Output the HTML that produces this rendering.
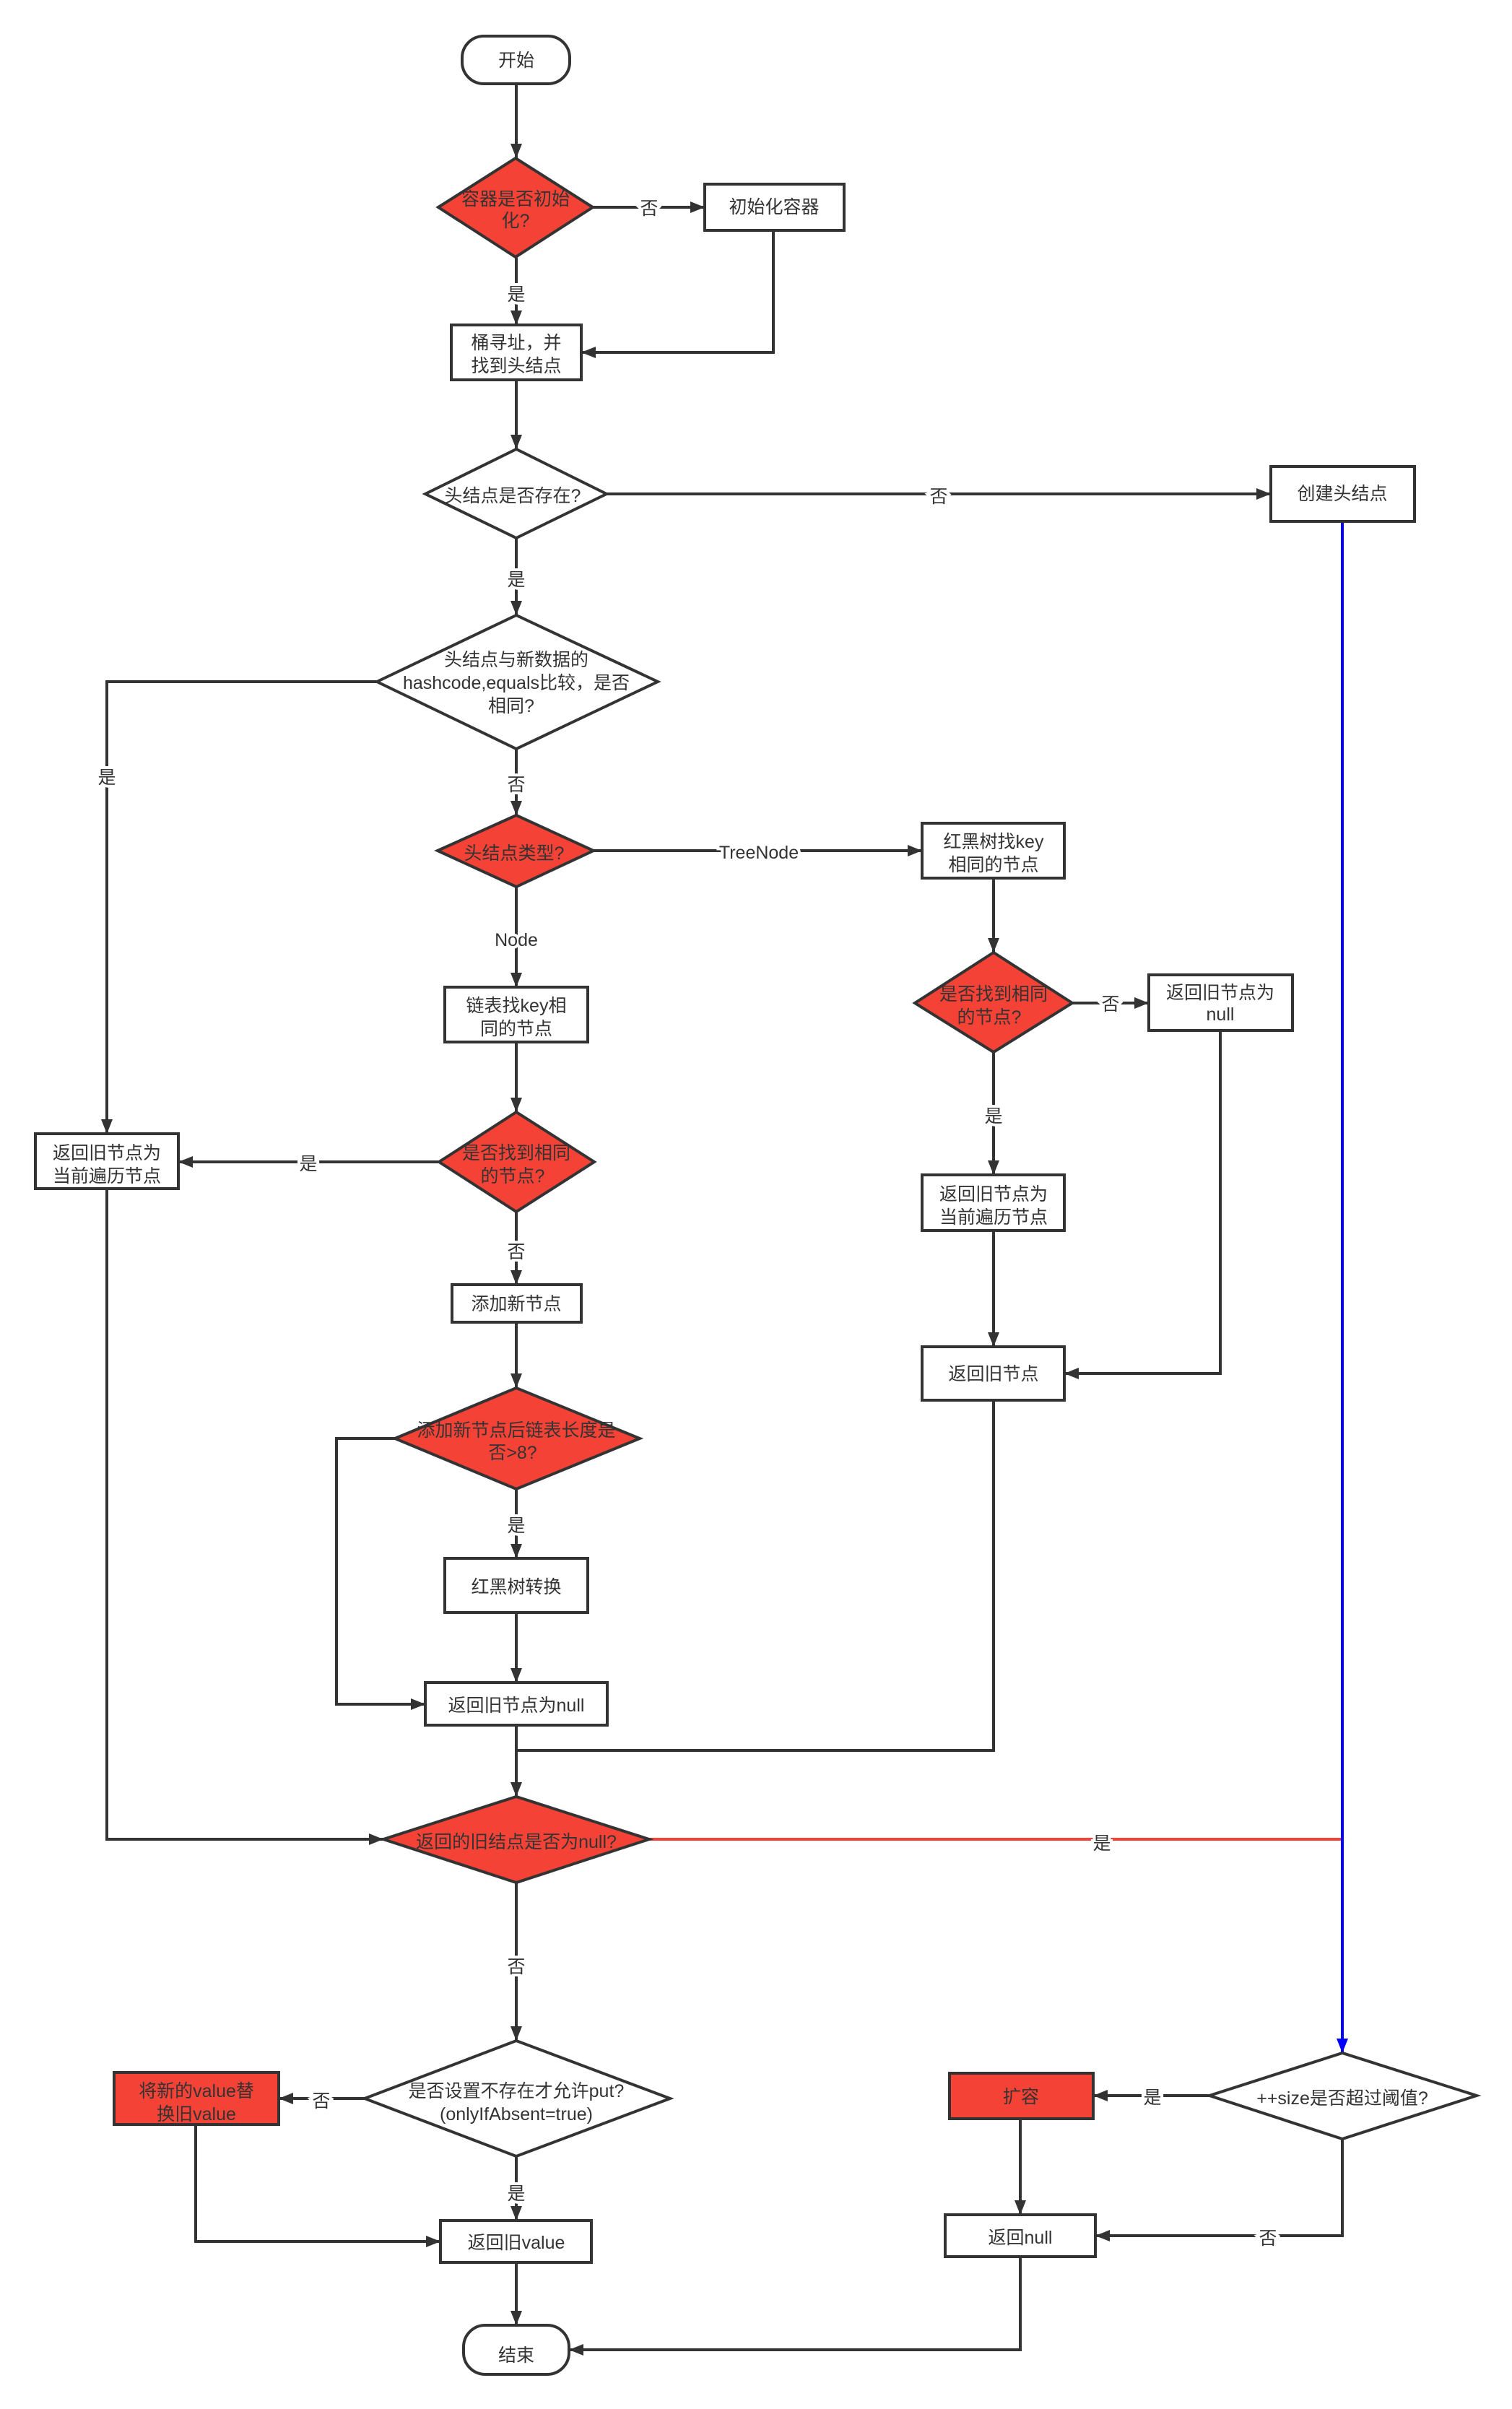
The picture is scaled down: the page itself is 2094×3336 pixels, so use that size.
<!DOCTYPE html>
<html><head><meta charset="utf-8"><style>
html,body{margin:0;padding:0;background:#fff}
svg{display:block}
text{font-family:"Liberation Sans","Noto Sans CJK SC",sans-serif;font-size:25px;fill:#333;text-anchor:middle;dominant-baseline:central}
.l{paint-order:stroke;stroke:#fff;stroke-width:8px}
</style></head><body>
<svg width="2094" height="3336" viewBox="0 0 2094 3336" xmlns="http://www.w3.org/2000/svg">
<defs>
<marker id="a" markerUnits="userSpaceOnUse" markerWidth="20" markerHeight="16" refX="20" refY="8" orient="auto"><path d="M0,0 L20,8 L0,16 z" fill="#333"/></marker>
<marker id="b" markerUnits="userSpaceOnUse" markerWidth="20" markerHeight="16" refX="20" refY="8" orient="auto"><path d="M0,0 L20,8 L0,16 z" fill="#00f"/></marker>
</defs>
<g fill="none" stroke="#333" stroke-width="4">
<path d="M715,117 V219" marker-end="url(#a)"/>
<path d="M821,287 H976" marker-end="url(#a)"/>
<path d="M715,356 V450" marker-end="url(#a)"/>
<path d="M1071,319 V488 H805" marker-end="url(#a)"/>
<path d="M715,526 V622" marker-end="url(#a)"/>
<path d="M840,684 H1760" marker-end="url(#a)"/>
<path d="M715,745 V852" marker-end="url(#a)"/>
<path d="M522,944 H148 V1570" marker-end="url(#a)"/>
<path d="M715,1037 V1129" marker-end="url(#a)"/>
<path d="M822,1178 H1277" marker-end="url(#a)"/>
<path d="M715,1228 V1367" marker-end="url(#a)"/>
<path d="M1376,1216 V1319" marker-end="url(#a)"/>
<path d="M1485,1389 H1591" marker-end="url(#a)"/>
<path d="M1376,1457 V1627" marker-end="url(#a)"/>
<path d="M1376,1704 V1865" marker-end="url(#a)"/>
<path d="M1690,1427 V1902 H1474" marker-end="url(#a)"/>
<path d="M715,1443 V1540" marker-end="url(#a)"/>
<path d="M608,1609 H247" marker-end="url(#a)"/>
<path d="M715,1678 V1779" marker-end="url(#a)"/>
<path d="M715,1831 V1922" marker-end="url(#a)"/>
<path d="M547,1992 H466 V2360 H589" marker-end="url(#a)"/>
<path d="M715,2062 V2158" marker-end="url(#a)"/>
<path d="M715,2233 V2330" marker-end="url(#a)"/>
<path d="M715,2389 V2488" marker-end="url(#a)"/>
<path d="M1376,1939 V2424 H715"/>
<path d="M148,1646 V2547 H531" marker-end="url(#a)"/>
<path d="M715,2607 V2826" marker-end="url(#a)"/>
<path d="M505,2906 H386" marker-end="url(#a)"/>
<path d="M715,2986 V3075" marker-end="url(#a)"/>
<path d="M271,2942 V3104 H610" marker-end="url(#a)"/>
<path d="M715,3133 V3220" marker-end="url(#a)"/>
<path d="M1675,2902 H1514" marker-end="url(#a)"/>
<path d="M1413,2934 V3067" marker-end="url(#a)"/>
<path d="M1859,2962 V3096 H1517" marker-end="url(#a)"/>
<path d="M1413,3125 V3254 H788" marker-end="url(#a)"/>
<path d="M899,2547 H1859" stroke="#f44336"/>
<path d="M1859,722 V2843" stroke="#00f" marker-end="url(#b)"/>
</g>
<g stroke="#333" stroke-width="4">
<rect x="640" y="50" width="149" height="66" rx="30" fill="#fff"/>
<polygon points="607,287 714,219 821,287 714,356" fill="#f44336"/>
<rect x="976" y="255" width="193" height="64" fill="#fff"/>
<rect x="625" y="450" width="180" height="76" fill="#fff"/>
<polygon points="589,684 715,622 840,684 715,745" fill="#fff"/>
<rect x="1760" y="646" width="199" height="76" fill="#fff"/>
<polygon points="522,944 715,852 911,944 715,1037" fill="#fff"/>
<polygon points="606,1178 715,1129 822,1178 715,1228" fill="#f44336"/>
<rect x="1277" y="1140" width="197" height="76" fill="#fff"/>
<rect x="616" y="1367" width="198" height="76" fill="#fff"/>
<polygon points="1267,1389 1376,1319 1485,1389 1376,1457" fill="#f44336"/>
<rect x="1591" y="1350" width="199" height="77" fill="#fff"/>
<polygon points="608,1609 715,1540 823,1609 715,1678" fill="#f44336"/>
<rect x="49" y="1570" width="198" height="76" fill="#fff"/>
<rect x="1277" y="1627" width="197" height="77" fill="#fff"/>
<rect x="626" y="1779" width="179" height="52" fill="#fff"/>
<rect x="1277" y="1865" width="197" height="74" fill="#fff"/>
<polygon points="547,1992 715,1922 886,1992 715,2062" fill="#f44336"/>
<rect x="616" y="2158" width="198" height="75" fill="#fff"/>
<rect x="589" y="2330" width="252" height="59" fill="#fff"/>
<polygon points="531,2547 715,2488 899,2547 715,2607" fill="#f44336"/>
<polygon points="505,2906 715,2826 928,2906 715,2986" fill="#fff"/>
<rect x="158" y="2870" width="228" height="72" fill="#f44336"/>
<rect x="610" y="3075" width="209" height="58" fill="#fff"/>
<rect x="642" y="3220" width="146" height="68" rx="30" fill="#fff"/>
<polygon points="1675,2902 1859,2843 2045,2902 1859,2962" fill="#fff"/>
<rect x="1315" y="2871" width="199" height="63" fill="#f44336"/>
<rect x="1309" y="3067" width="208" height="58" fill="#fff"/>
</g>
<text x="715" y="84">开始</text>
<text x="714" y="276">容器是否初始</text><text x="714" y="306">化?</text>
<text x="1072" y="287">初始化容器</text>
<text x="715" y="475">桶寻址，并</text><text x="715" y="507">找到头结点</text>
<text x="710" y="687">头结点是否存在?</text>
<text x="1859" y="684">创建头结点</text>
<text x="715" y="914">头结点与新数据的</text><text x="715" y="946">hashcode,equals比较，是否</text><text x="708" y="978">相同?</text>
<text x="712" y="1182">头结点类型?</text>
<text x="1376" y="1166">红黑树找key</text><text x="1376" y="1198">相同的节点</text>
<text x="715" y="1393">链表找key相</text><text x="715" y="1425">同的节点</text>
<text x="1376" y="1377">是否找到相同</text><text x="1370" y="1409">的节点?</text>
<text x="1690" y="1375">返回旧节点为</text><text x="1690" y="1405">null</text>
<text x="715" y="1597">是否找到相同</text><text x="710" y="1629">的节点?</text>
<text x="148" y="1597">返回旧节点为</text><text x="148" y="1629">当前遍历节点</text>
<text x="1376" y="1654">返回旧节点为</text><text x="1376" y="1686">当前遍历节点</text>
<text x="715" y="1806">添加新节点</text>
<text x="1376" y="1903">返回旧节点</text>
<text x="715" y="1981">添加新节点后链表长度是</text><text x="710" y="2012">否&gt;8?</text>
<text x="715" y="2198">红黑树转换</text>
<text x="715" y="2362">返回旧节点为null</text>
<text x="715" y="2551">返回的旧结点是否为null?</text>
<text x="715" y="2896">是否设置不存在才允许put?</text><text x="715" y="2928">(onlyIfAbsent=true)</text>
<text x="272" y="2896">将新的value替</text><text x="272" y="2928">换旧value</text>
<text x="715" y="3106">返回旧value</text>
<text x="715" y="3262">结束</text>
<text x="1859" y="2906">++size是否超过阈值?</text>
<text x="1414" y="2904">扩容</text>
<text x="1413" y="3099">返回null</text>
<g class="lbl">
<text class="l" x="899" y="289">否</text>
<text class="l" x="715" y="408">是</text>
<text class="l" x="1300" y="688">否</text>
<text class="l" x="715" y="803">是</text>
<text class="l" x="148" y="1077">是</text>
<text class="l" x="715" y="1087">否</text>
<text class="l" x="1051" y="1181">TreeNode</text>
<text class="l" x="715" y="1302">Node</text>
<text class="l" x="1538" y="1391">否</text>
<text class="l" x="1376" y="1546">是</text>
<text class="l" x="427" y="1612">是</text>
<text class="l" x="715" y="1734">否</text>
<text class="l" x="715" y="2113">是</text>
<text class="l" x="1526" y="2553">是</text>
<text class="l" x="715" y="2724">否</text>
<text class="l" x="445" y="2910">否</text>
<text class="l" x="715" y="3038">是</text>
<text class="l" x="1596" y="2905">是</text>
<text class="l" x="1756" y="3100">否</text>
</g>
</svg>
</body></html>
